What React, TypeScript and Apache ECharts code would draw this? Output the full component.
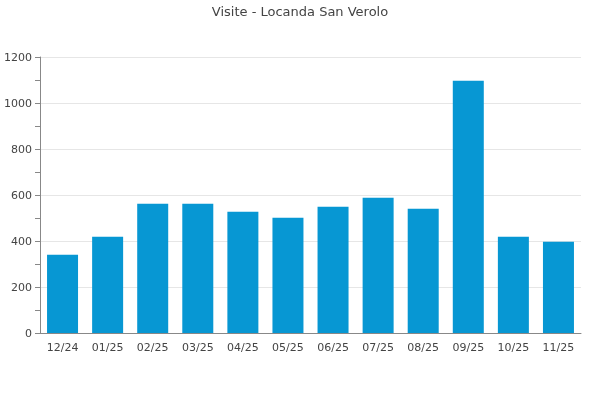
import React, { useEffect, useRef } from "react";
import * as echarts from "echarts";

const categories = ["12/24", "01/25", "02/25", "03/25", "04/25", "05/25", "06/25", "07/25", "08/25", "09/25", "10/25", "11/25"];
const visits = [340, 419, 562, 562, 527, 501, 549, 588, 540, 1097, 419, 397];
const titleText = "Visite - Locanda San Verolo";

export default function App() {
  const ref = useRef<HTMLDivElement>(null);
  useEffect(() => {
    if (!ref.current) return;
    const chart = echarts.init(ref.current, null, { renderer: "svg" });
    chart.setOption({
      animation: false,
      textStyle: { fontFamily: "DejaVu Sans" },
      title: {
        text: titleText,
        left: "center",
        top: 0,
        textStyle: { fontFamily: "DejaVu Sans", fontSize: 13, fontWeight: "normal", color: "#444" },
      },
      grid: { left: 40, right: 19, top: 57, bottom: 67, containLabel: false },
      xAxis: {
        type: "category",
        data: categories,
        axisLine: { lineStyle: { color: "#888" } },
        axisTick: { show: false },
        axisLabel: { color: "#444", fontSize: 11, margin: 9, fontFamily: "DejaVu Sans" },
      },
      yAxis: {
        type: "value",
        min: 0,
        max: 1200,
        interval: 200,
        axisLine: { show: true, lineStyle: { color: "#888" } },
        axisTick: { show: true, length: 5, lineStyle: { color: "#888" } },
        minorTick: { show: true, splitNumber: 2, length: 5, lineStyle: { color: "#888" } },
        splitLine: { lineStyle: { color: "#e6e6e6" } },
        axisLabel: {
          color: "#444",
          fontSize: 11,
          margin: 8,
          fontFamily: "DejaVu Sans",
          formatter: (v: number) => String(v),
        },
      },
      series: [
        {
          type: "bar",
          data: visits,
          barWidth: 31,
          itemStyle: { color: "#0797d3" },
        },
      ],
    });
    return () => chart.dispose();
  }, []);
  return <div ref={ref} style={{ position: "fixed", left: 0, top: 0, width: 600, height: 400 }} />;
}
